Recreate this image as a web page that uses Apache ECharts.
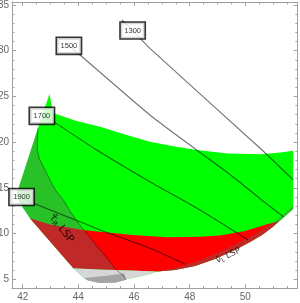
<!DOCTYPE html>
<html><head><meta charset="utf-8">
<script src="https://cdn.jsdelivr.net/npm/echarts@6/dist/echarts.min.js"></script>
<style>html,body{margin:0;padding:0;background:#fff}#c{width:300px;height:303px}</style>
</head><body><div id="c"></div>
<script>
// ---- tick values ----
const xTicks = [42, 44, 46, 48, 50];
const xMinorTicks = [42.5, 43, 43.5, 44.5, 45, 45.5, 46.5, 47, 47.5, 48.5, 49, 49.5, 50.5, 51, 51.5];
const yTicks = [5, 10, 15, 20, 25, 30, 35];
const yMinorTicks = [6,7,8,9,11,12,13,14,16,17,18,19,21,22,23,24,26,27,28,29,31,32,33,34];

// ---- regions (x, y) ----
const greenRegion = [
  [42.96,25.27],[43.10,23.19],[43.88,22.37],[44.78,21.69],[45.68,20.84],[46.57,20.05],
  [47.47,19.52],[48.25,19.14],[49.38,18.76],[50.53,18.67],[51.25,18.87],[51.72,19.06],
  [51.72,12.69],[51.32,11.59],[50.96,10.66],[50.60,9.84],[50.17,9.08],[49.63,8.20],
  [48.91,7.22],[48.19,6.45],[47.47,6.02],[46.83,5.85],[46.57,5.58],[46.11,5.25],
  [45.68,4.98],[45.35,4.65],[44.78,4.59],[44.35,4.87],[44.20,5.14],[43.82,6.20],
  [42.26,11.67],[42.02,12.76],[41.76,14.11],[42.55,21.55]
];
const redRegion = [
  [42.26,11.67],[42.98,10.99],[44.18,10.39],[44.78,10.20],[45.96,9.84],[47.19,9.59],
  [48.37,9.66],[49.09,9.79],[49.99,10.28],[50.78,11.01],[51.21,11.35],
  [50.96,10.66],[50.60,9.84],[50.17,9.08],[49.63,8.20],[48.91,7.22],[48.19,6.45],
  [47.47,6.02],[46.83,5.85],[45.86,5.96],[44.78,6.07],[43.82,6.20]
];
const grayRegion = [
  [43.82,6.20],[44.78,6.07],[45.86,5.96],[46.83,5.85],[46.57,5.58],[46.11,5.25],
  [45.68,4.98],[45.35,4.65],[44.78,4.59],[44.35,4.87],[44.20,5.14]
];
const darkGrayRegion = [
  [44.20,5.14],[44.78,5.30],[45.64,5.63],[45.71,4.92],[45.35,4.65],[44.78,4.59],[44.35,4.87]
];
const stauLine = [
  [42.55,21.55],[42.53,20.23],[42.53,19.14],[42.62,18.05],[42.77,17.17],[42.98,15.86],
  [43.20,14.66],[43.46,13.67],[43.70,12.47],[43.94,11.43],[44.17,10.50],[44.42,9.52],
  [44.78,8.20],[45.14,6.89],[45.35,6.07],[45.64,5.36],[45.71,4.92]
];
const stauRegion = [
  [42.55,21.55],[42.53,20.23],[42.53,19.14],[42.62,18.05],[42.77,17.17],[42.98,15.86],
  [43.20,14.66],[43.46,13.67],[43.70,12.47],[43.94,11.43],[44.17,10.50],[44.42,9.52],
  [44.78,8.20],[45.14,6.89],[45.35,6.07],[44.78,6.07],[43.82,6.20],
  [42.26,11.67],[42.02,12.76],[41.76,14.11]
];
const snuLine = [
  [46.83,5.85],[47.47,6.23],[48.19,6.89],[48.91,7.77],[49.63,8.81],[50.17,9.63],
  [50.60,10.39],[50.96,11.16],[51.25,11.81],[51.72,13.07]
];
const snuRegion = [
  [46.83,5.85],[47.47,6.23],[48.19,6.89],[48.91,7.77],[49.63,8.81],[50.17,9.63],
  [50.60,10.39],[50.96,11.16],[51.25,11.81],[51.72,13.07],
  [51.72,12.69],[51.32,11.59],[50.96,10.66],[50.60,9.84],[50.17,9.08],[49.63,8.20],
  [48.91,7.22],[48.19,6.45],[47.47,6.02]
];

// ---- contours ----
const contour1300 = [[45.56,33.36],[45.95,32.21],[46.57,30.26],[50.53,19.33],[51.72,15.86]];
const contour1500 = [[43.66,30.54],[44.06,29.53],[46.57,22.97],[48.25,19.14],[49.39,16.59],[50.59,13.67],[51.36,11.85]];
const contour1700 = [[42.69,22.88],[43.10,22.24],[44.66,19.14],[46.57,15.67],[48.37,12.58],[50.10,9.30]];
const contour1900 = [[41.94,14.00],[42.28,13.45],[43.94,11.43],[44.78,10.39],[46.57,8.39],[47.83,6.67]];
const contourLabels = [
  {value:[45.95,32.21], name:'1300'},
  {value:[43.66,30.54], name:'1500'},
  {value:[42.69,22.88], name:'1700'},
  {value:[41.96,14.00], name:'1900'}
];
const regionLabels = [
  {value:[43.39,10.56], name:'stau', rot:-52},
  {value:[49.39,7.60], name:'snu', rot:25}
];

const AX = '#a0a0a0';
function polySeries(pts, fill){
  return {
    type:'custom', coordinateSystem:'cartesian2d', silent:true, clip:true,
    data:[pts[0]],
    renderItem:(params, api)=>({
      type:'polygon',
      shape:{points: pts.map(p=>api.coord(p))},
      style:{fill: fill, stroke: null}
    })
  };
}
function lineSeries(pts, color, w){
  return {type:'line', data:pts, symbol:'none', smooth:0.2, silent:true,
    lineStyle:{color:color, width:w}};
}
function xAx(pos, ticks, len, labels, line){
  return {type:'value', min:41.616, max:51.88, position:pos, gridIndex:0,
    axisLine:{show:line, onZero:false, lineStyle:{color:AX, width:1}},
    axisTick:{show:true, inside:true, length:len, customValues:ticks, lineStyle:{color:AX}},
    axisLabel:{show:labels, customValues:ticks, color:'#666', fontSize:10, margin:4, fontFamily:'Liberation Sans'},
    splitLine:{show:false}, minorTick:{show:false}};
}
function yAx(pos, ticks, len, labels, line){
  return {type:'value', min:4.01, max:35.33, position:pos, gridIndex:0,
    axisLine:{show:line, onZero:false, lineStyle:{color:AX, width:1}},
    axisTick:{show:true, inside:true, length:len, customValues:ticks, lineStyle:{color:AX}},
    axisLabel:{show:labels, customValues:ticks, color:'#666', fontSize:10, margin:3, fontFamily:'Liberation Sans'},
    splitLine:{show:false}, minorTick:{show:false}};
}

const chart = echarts.init(document.getElementById('c'), null, {renderer:'canvas'});
chart.setOption({
  animation:false,
  backgroundColor:'#fff',
  grid:{left:12, right:2.3, top:2, bottom:14.7, containLabel:false, outerBoundsMode:'none'},
  xAxis:[xAx('bottom', xTicks, 4, true, true), xAx('bottom', xMinorTicks, 2.3, false, false),
         xAx('top', xTicks, 4, false, true), xAx('top', xMinorTicks, 2.3, false, false)],
  yAxis:[yAx('left', yTicks, 4, true, true), yAx('left', yMinorTicks, 2.3, false, false),
         yAx('right', yTicks, 4, false, true), yAx('right', yMinorTicks, 2.3, false, false)],
  series:[
    polySeries(greenRegion, '#00ff00'),
    polySeries(redRegion, '#ff0000'),
    polySeries(grayRegion, '#d6d6d6'),
    polySeries(darkGrayRegion, '#a4a4a4'),
    polySeries(stauRegion, 'rgba(100,100,100,0.4)'),
    polySeries(snuRegion, 'rgba(100,100,100,0.4)'),
    lineSeries(stauLine, 'rgba(0,0,0,0.45)', 0.8),
    lineSeries(contour1300, 'rgba(0,0,0,0.55)', 1.1),
    lineSeries(contour1500, 'rgba(0,0,0,0.55)', 1.1),
    lineSeries(contour1700, 'rgba(0,0,0,0.55)', 1.1),
    lineSeries(contour1900, 'rgba(0,0,0,0.55)', 1.1),
    {type:'scatter', z:5, data:contourLabels, symbolSize:0, silent:true, clip:false,
      label:{show:true, position:'inside', formatter:p=>p.name, color:'#000', fontSize:7.5,
        fontFamily:'Liberation Sans', backgroundColor:'#fff', borderColor:'#000', borderWidth:1.6,
        padding:[4,3.5,3.5,3.5]}},
    {type:'scatter', z:5, symbolSize:0, silent:true, clip:false,
      data:regionLabels.map(d=>({value:d.value, name:d.name, label:{rotate:d.rot}})),
      label:{show:true, position:'inside', color:'#000', fontFamily:'DejaVu Sans',
        formatter:p=> p.name==='stau' ? '{a|τ̃}{s|R}{a| LSP}' : '{b|ν̃}{t|L}{b| LSP}',
        rich:{
          a:{fontSize:10.5, color:'#000', lineHeight:14, fontFamily:'DejaVu Sans'},
          s:{fontSize:7, color:'#000', lineHeight:14, padding:[5,0,0,0], fontFamily:'DejaVu Sans'},
          b:{fontSize:8.5, color:'#000', lineHeight:12, fontFamily:'DejaVu Sans'},
          t:{fontSize:6, color:'#000', lineHeight:12, padding:[4,0,0,0], fontFamily:'DejaVu Sans'}
        }}}
  ]
});
</script></body></html>
